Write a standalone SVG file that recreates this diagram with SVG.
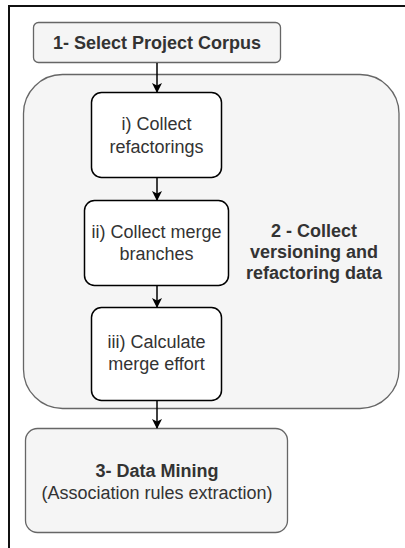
<svg xmlns="http://www.w3.org/2000/svg" width="405" height="548" viewBox="0 0 405 548">
<defs>
<marker id="ah" markerWidth="10" markerHeight="10" refX="9" refY="5" orient="auto" markerUnits="userSpaceOnUse">
<path d="M0,0 L10,5 L0,10 L2.5,5 Z" fill="#000"/>
</marker>
<style>
.grey{fill:#f5f5f5;stroke:#666;stroke-width:1.3}
.white{fill:#fff;stroke:#000;stroke-width:1.5}
text{font-family:"Liberation Sans",Arial,sans-serif;font-size:18px;fill:#333;text-anchor:middle}
.b{font-weight:bold}
.edge{stroke:#000;stroke-width:1.5;fill:none;marker-end:url(#ah)}
</style>
</defs>
<rect x="0" y="0" width="405" height="548" fill="#fff"/>
<path d="M9,548 L9,6 L405,6" fill="none" stroke="#111" stroke-width="2"/>
<g id="n1">
<rect class="grey" x="33.5" y="22.5" width="247" height="40" rx="5"/>
<text class="b" x="157" y="48.5">1- Select Project Corpus</text>
</g>
<g id="n2">
<rect class="grey" x="23.5" y="74.5" width="375.5" height="334" rx="39"/>
<text class="b" x="314" y="237">2 - Collect</text>
<text class="b" x="314" y="258">versioning and</text>
<text class="b" x="314" y="279">refactoring data</text>
</g>
<g id="ni">
<rect class="white" x="91.5" y="92.5" width="130" height="85" rx="10"/>
<text x="156.5" y="130">i) Collect</text>
<text x="156.5" y="153">refactorings</text>
</g>
<g id="nii">
<rect class="white" x="84.5" y="200.5" width="144" height="85" rx="10"/>
<text x="156.5" y="238">ii) Collect merge</text>
<text x="156.5" y="260">branches</text>
</g>
<g id="niii">
<rect class="white" x="91.5" y="307.5" width="130" height="93" rx="10"/>
<text x="156.5" y="348">iii) Calculate</text>
<text x="156.5" y="370">merge effort</text>
</g>
<g id="n3">
<rect class="grey" x="25.5" y="428.5" width="262" height="104" rx="12"/>
<text class="b" x="157" y="477">3- Data Mining</text>
<text x="157" y="499">(Association rules extraction)</text>
</g>
<g id="edges">
<line class="edge" x1="157" y1="63" x2="157" y2="92"/>
<line class="edge" x1="157" y1="178" x2="157" y2="200"/>
<line class="edge" x1="157" y1="286" x2="157" y2="307"/>
<line class="edge" x1="157" y1="401" x2="157" y2="428"/>
</g>
</svg>
